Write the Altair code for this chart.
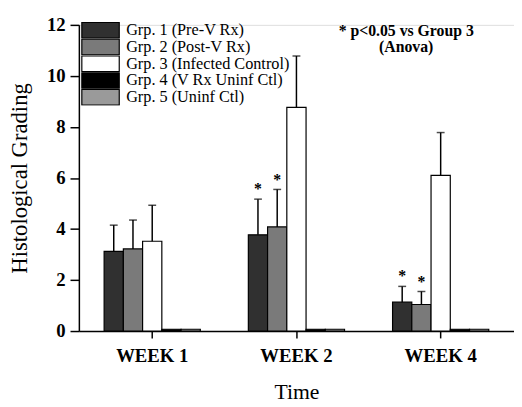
import altair as alt
import pandas as pd

weeks = ["WEEK 1", "WEEK 2", "WEEK 4"]
groups = [
    "Grp. 1 (Pre-V Rx)",
    "Grp. 2 (Post-V Rx)",
    "Grp. 3 (Infected Control)",
    "Grp. 4 (V Rx Uninf Ctl)",
    "Grp. 5 (Uninf Ctl)",
]
fills = ["#303030", "#7a7a7a", "#ffffff", "#000000", "#9a9a9a"]

# mean grading per week
g1_mean = [3.12, 3.77, 1.13]
g2_mean = [3.22, 4.08, 1.04]
g3_mean = [3.52, 8.77, 6.10]
g4_mean = [0.07, 0.07, 0.07]
g5_mean = [0.07, 0.07, 0.07]
# upper end of the error bar (mean + SD)
g1_hi = [4.15, 5.17, 1.75]
g2_hi = [4.35, 5.55, 1.55]
g3_hi = [4.93, 10.78, 7.78]
# significance vs group 3
g1_sig = [False, True, True]
g2_sig = [False, True, True]

means = [g1_mean, g2_mean, g3_mean, g4_mean, g5_mean]
his = [g1_hi, g2_hi, g3_hi, None, None]
sigs = [g1_sig, g2_sig, None, None, None]

rows, err_rows, sig_rows = [], [], []
for gi, g in enumerate(groups):
    for wi, w in enumerate(weeks):
        rows.append({"week": w, "group": g, "mean": means[gi][wi]})
        if his[gi] is not None:
            err_rows.append({"week": w, "group": g, "mean": means[gi][wi], "hi": his[gi][wi]})
        if sigs[gi] is not None and sigs[gi][wi]:
            sig_rows.append({"week": w, "group": g, "hi": his[gi][wi], "mark": "*"})

df = pd.DataFrame(rows)
df_err = pd.DataFrame(err_rows)
df_sig = pd.DataFrame(sig_rows)

FONT = "Liberation Serif"

x_axis = alt.Axis(
    title="Time", titleFont=FONT, titleFontSize=22, titleFontWeight="normal",
    titleColor="black", titlePadding=17,
    labelFont=FONT, labelFontSize=19, labelFontWeight="bold", labelColor="black",
    labelAngle=0, labelPadding=9, tickSize=7, tickColor="black", tickWidth=1.5,
    domainColor="black", domainWidth=1.5, grid=False,
)
y_axis = alt.Axis(
    title="Histological Grading", titleFont=FONT, titleFontSize=23,
    titleFontWeight="normal", titleColor="black", titlePadding=15,
    values=[0, 2, 4, 6, 8, 10, 12],
    labelFont=FONT, labelFontSize=19, labelFontWeight="bold", labelColor="black",
    labelPadding=5, tickSize=9, tickColor="black", tickWidth=1.5,
    domainColor="black", domainWidth=1.5, grid=False,
)

xscale = alt.Scale(domain=weeks, paddingInner=0.333, paddingOuter=0.175)
x = alt.X("week:N", sort=weeks, scale=xscale, axis=x_axis)
xo = alt.XOffset("group:N", sort=groups,
                 scale=alt.Scale(domain=groups, paddingInner=0, paddingOuter=0))
yscale = alt.Scale(domain=[0, 12], nice=False)

bars = alt.Chart(df).mark_bar(stroke="black", strokeWidth=1.2).encode(
    x=x,
    xOffset=xo,
    y=alt.Y("mean:Q", scale=yscale, axis=y_axis),
    fill=alt.Fill(
        "group:N", sort=groups,
        scale=alt.Scale(domain=groups, range=fills),
        legend=alt.Legend(
            title=None, orient="none", legendX=2, legendY=-3,
            symbolType="M-1,-0.42H1V0.42H-1Z", symbolSize=1444,
            clipHeight=17, rowPadding=0,
            labelFont=FONT, labelFontSize=16.5, labelColor="black",
            labelOffset=6, labelLimit=300,
            symbolStrokeColor="black", symbolStrokeWidth=1.2, symbolOpacity=1,
        ),
    ),
)

err = alt.Chart(df_err).mark_rule(color="black", strokeWidth=1.5).encode(
    x=x, xOffset=xo,
    y=alt.Y("mean:Q", scale=yscale, axis=y_axis), y2="hi:Q",
)
caps = alt.Chart(df_err).mark_tick(color="black", thickness=1.5, size=8).encode(
    x=x, xOffset=xo,
    y=alt.Y("hi:Q", scale=yscale, axis=y_axis),
)
stars = alt.Chart(df_sig).mark_text(
    font=FONT, fontSize=16, fontWeight="bold", color="black", dy=-10, baseline="middle"
).encode(
    x=x, xOffset=xo,
    y=alt.Y("hi:Q", scale=yscale, axis=y_axis),
    text="mark:N",
)
note = alt.Chart(pd.DataFrame({"t": ["* p<0.05 vs Group 3\n(Anova)"]})).mark_text(
    font=FONT, fontSize=16, fontWeight="bold", color="black",
    baseline="top", align="center", lineBreak="\n", lineHeight=17, dx=-35, dy=-2,
).encode(
    x=alt.X(datum="WEEK 4", scale=xscale, axis=x_axis),
    y=alt.Y(datum=12, scale=yscale, axis=y_axis),
    text="t:N",
)

chart = alt.layer(bars, err, caps, stars, note).properties(
    width=442, height=311,
    autosize=alt.AutoSizeParams(type="none"),
    padding={"left": 72, "top": 14, "right": 0, "bottom": 73},
).configure_view(stroke=None).configure(font=FONT)

chart.save("out.html", embed_options={"renderer": "svg", "actions": False})
